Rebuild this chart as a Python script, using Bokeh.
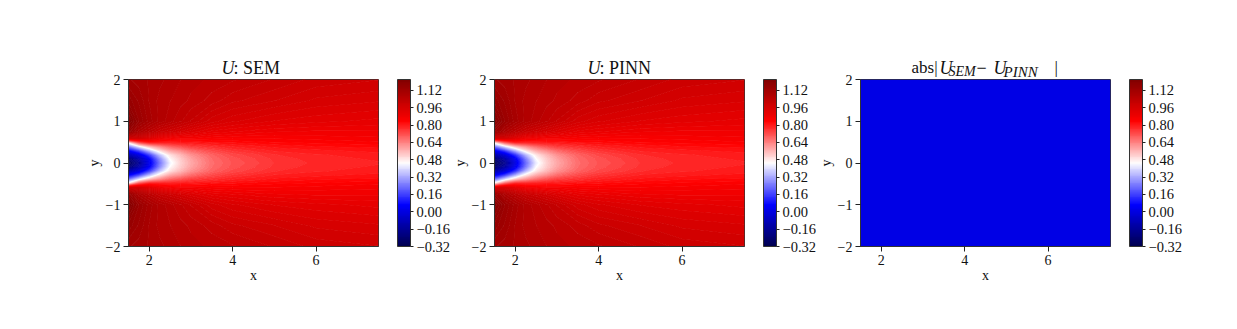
import numpy as np
from bokeh.embed import file_html
from bokeh.layouts import column, row
from bokeh.models import ColorBar, FixedTicker, Label, LinearColorMapper
from bokeh.plotting import figure
from bokeh.resources import INLINE

X_SEM = [1.5, 1.75, 2.0, 2.25, 2.5, 2.75, 3.0, 3.5, 4.0, 5.0, 6.0, 7.5]
Y_HALF = [0.0, 0.1, 0.2, 0.3, 0.4, 0.5, 0.6, 0.75, 1.0, 1.5, 2.0]
U_SEM_HALF = [
    [-0.28, -0.16, 0.02, 0.24, 0.43, 0.52, 0.58, 0.67, 0.71, 0.755, 0.775, 0.785],
    [-0.23, -0.11, 0.05, 0.27, 0.46, 0.53, 0.59, 0.675, 0.715, 0.76, 0.78, 0.79],
    [-0.10, 0.00, 0.16, 0.36, 0.50, 0.56, 0.62, 0.69, 0.73, 0.77, 0.785, 0.795],
    [0.06, 0.18, 0.35, 0.50, 0.59, 0.63, 0.68, 0.73, 0.76, 0.79, 0.80, 0.81],
    [0.25, 0.42, 0.55, 0.63, 0.69, 0.72, 0.75, 0.77, 0.79, 0.81, 0.82, 0.825],
    [0.50, 0.72, 0.80, 0.80, 0.80, 0.81, 0.81, 0.82, 0.825, 0.835, 0.84, 0.85],
    [0.98, 0.98, 0.94, 0.90, 0.88, 0.87, 0.87, 0.86, 0.855, 0.855, 0.86, 0.865],
    [1.15, 1.08, 1.04, 1.00, 0.98, 0.96, 0.94, 0.91, 0.90, 0.885, 0.88, 0.88],
    [1.21, 1.14, 1.10, 1.07, 1.05, 1.03, 1.01, 0.97, 0.95, 0.93, 0.92, 0.91],
    [1.15, 1.12, 1.09, 1.07, 1.06, 1.05, 1.04, 1.02, 1.00, 0.98, 0.96, 0.95],
    [1.11, 1.10, 1.09, 1.08, 1.07, 1.06, 1.05, 1.04, 1.03, 1.01, 0.99, 0.98],
]
U_PINN_HALF = [
    [-0.29, -0.18, 0.00, 0.22, 0.42, 0.52, 0.58, 0.67, 0.71, 0.755, 0.775, 0.785],
    [-0.24, -0.13, 0.03, 0.25, 0.45, 0.53, 0.59, 0.675, 0.715, 0.76, 0.78, 0.79],
    [-0.12, -0.02, 0.14, 0.34, 0.49, 0.56, 0.62, 0.69, 0.73, 0.77, 0.785, 0.795],
    [0.04, 0.16, 0.33, 0.49, 0.58, 0.63, 0.68, 0.73, 0.76, 0.79, 0.80, 0.81],
    [0.24, 0.40, 0.54, 0.62, 0.68, 0.72, 0.75, 0.77, 0.79, 0.81, 0.82, 0.825],
    [0.50, 0.70, 0.79, 0.79, 0.80, 0.81, 0.81, 0.82, 0.825, 0.835, 0.84, 0.85],
    [0.96, 0.97, 0.93, 0.89, 0.88, 0.87, 0.87, 0.86, 0.855, 0.855, 0.86, 0.865],
    [1.14, 1.08, 1.04, 1.00, 0.98, 0.96, 0.94, 0.91, 0.90, 0.885, 0.88, 0.88],
    [1.20, 1.14, 1.10, 1.07, 1.05, 1.03, 1.01, 0.97, 0.95, 0.93, 0.92, 0.91],
    [1.15, 1.12, 1.09, 1.07, 1.06, 1.05, 1.04, 1.02, 1.00, 0.98, 0.96, 0.95],
    [1.11, 1.10, 1.09, 1.08, 1.07, 1.06, 1.05, 1.04, 1.03, 1.01, 0.99, 0.98],
]
X_ERR = [1.5, 3.0, 4.5, 6.0, 7.5]
Y_ERR = [-2.0, -1.0, 0.0, 1.0, 2.0]
U_ERR = [
    [0.012, 0.012, 0.012, 0.012, 0.012],
    [0.012, 0.013, 0.013, 0.012, 0.012],
    [0.013, 0.014, 0.014, 0.013, 0.012],
    [0.012, 0.013, 0.013, 0.012, 0.012],
    [0.012, 0.012, 0.012, 0.012, 0.012],
]
VMIN, VMAX = -0.32, 1.22
TICKS = [-0.32, -0.16, 0.00, 0.16, 0.32, 0.48, 0.64, 0.80, 0.96, 1.12]
TICK_LABELS = ["\u22120.32", "\u22120.16", "0.00", "0.16", "0.32", "0.48", "0.64", "0.80", "0.96", "1.12"]
X_TICKS = [2, 4, 6]
Y_TICKS = [-2, -1, 0, 1, 2]
Y_TICK_LABELS = {-2: "\u22122", -1: "\u22121", 0: "0", 1: "1", 2: "2"}

FONT = "Liberation Serif"
TOP = 79
OVERLAP = 12
AXIS_LEFT = 45


def seismic(t):
    xs = [0.0, 0.25, 0.5, 0.75, 1.0]
    r = np.interp(t, xs, [0, 0, 1, 1, 0.5])
    g = np.interp(t, xs, [0, 0, 1, 0, 0])
    b = np.interp(t, xs, [0.3, 1, 1, 0, 0])
    return "#%02x%02x%02x" % (round(r * 255), round(g * 255), round(b * 255))


levels = np.linspace(VMIN, VMAX, 97)
palette = [seismic((i + 0.5) / 96) for i in range(96)]
line_palette = [seismic(i / 96) for i in range(97)]


def mirror(rows, y_half):
    z = np.array(rows)
    y = np.array(y_half)
    return np.concatenate([-y[:0:-1], y]), np.vstack([z[:0:-1], z])


def title_strip(parts, left):
    t = figure(width=left + 250 + 74, height=TOP, x_range=(1.5, 7.5), y_range=(0, TOP),
               frame_width=250, frame_height=TOP, min_border_left=left, min_border_right=74,
               min_border_top=0, min_border_bottom=0,
               output_backend="svg", toolbar_location=None, title=None,
               x_axis_type=None, y_axis_type=None, outline_line_color=None,
               border_fill_alpha=0, background_fill_alpha=0)
    t.grid.visible = False
    for text, dx, dy, size, style in parts:
        t.add_layout(Label(x=4.5, y=dy, x_offset=dx, text=text, text_font=FONT,
                           text_font_size=size, text_font_style=style, text_color="#111111",
                           text_baseline="alphabetic", text_align="left"))
    return t


def panel(x, y, z, left):
    p = figure(width=left + 250 + 74, height=229 + OVERLAP, x_range=(1.5, 7.5), y_range=(-2, 2),
               frame_width=250, frame_height=167, min_border_left=left, min_border_right=74,
               min_border_top=OVERLAP, min_border_bottom=62,
               output_backend="svg", toolbar_location=None, title=None, border_fill_alpha=0)
    p.margin = (-OVERLAP, 0, 0, 0)
    p.grid.visible = False
    p.contour(x, y, np.asarray(z), levels, fill_color=palette, line_color=line_palette, line_width=1)
    p.outline_line_color = "#333333"
    p.xaxis.ticker = FixedTicker(ticks=X_TICKS)
    p.yaxis.ticker = FixedTicker(ticks=Y_TICKS)
    p.yaxis.major_label_overrides = Y_TICK_LABELS
    p.xaxis.axis_label = "x"
    p.yaxis.axis_label = "y"
    p.yaxis.major_label_orientation = "horizontal"
    for ax in (p.xaxis[0], p.yaxis[0]):
        ax.major_tick_out = 5
        ax.major_tick_in = 0
        ax.minor_tick_line_color = None
        ax.major_tick_line_color = "#222222"
        ax.axis_line_color = "#333333"
        ax.major_label_text_font = FONT
        ax.major_label_text_font_size = "14px"
        ax.major_label_text_color = "#111111"
        ax.axis_label_text_font = FONT
        ax.axis_label_text_font_size = "14px"
        ax.axis_label_text_font_style = "normal"
        ax.axis_label_text_color = "#111111"
        ax.major_label_standoff = 3
    p.xaxis[0].axis_label_standoff = 0
    p.yaxis[0].axis_label_standoff = 1
    mapper = LinearColorMapper(palette=palette, low=VMIN, high=VMAX)
    cb = ColorBar(color_mapper=mapper, location=(269, 0), width=13, height=167, padding=0, margin=0,
                  ticker=FixedTicker(ticks=TICKS),
                  major_label_overrides=dict(zip(TICKS, TICK_LABELS)),
                  major_tick_in=0, major_tick_out=3, major_tick_line_color="#222222",
                  bar_line_color="#333333", label_standoff=3, background_fill_alpha=0,
                  major_label_text_font=FONT, major_label_text_font_size="14.5px",
                  major_label_text_color="#111111")
    p.add_layout(cb, "center")
    return p


y_full, sem = mirror(U_SEM_HALF, Y_HALF)
_, pinn = mirror(U_PINN_HALF, Y_HALF)

t1 = [("U", -32, 12, "18px", "italic"), (": SEM", -20, 12, "18px", "normal")]
t2 = [("U", -32, 12, "18px", "italic"), (": PINN", -20, 12, "18px", "normal")]
t3 = [("abs|", -74, 12, "17px", "normal"), ("U", -46, 12, "18px", "italic"),
      ("SEM", -37, 8, "14px", "italic"), ("\u2212", -9, 12, "18px", "normal"),
      ("U", 8, 12, "18px", "italic"), ("PINN", 18, 8, "15px", "italic"), ("|", 69, 12, "17px", "normal")]

c1 = column(title_strip(t1, 128), panel(X_SEM, y_full, sem, 128), spacing=0)
c2 = column(title_strip(t2, AXIS_LEFT), panel(X_SEM, y_full, pinn, AXIS_LEFT), spacing=0, margin=(0, 0, 0, -3))
c3 = column(title_strip(t3, AXIS_LEFT), panel(X_ERR, Y_ERR, U_ERR, AXIS_LEFT), spacing=0, margin=(0, 0, 0, -3))
page = row(c1, c2, c3, spacing=0)
open("out.html", "w").write(file_html(page, INLINE))
